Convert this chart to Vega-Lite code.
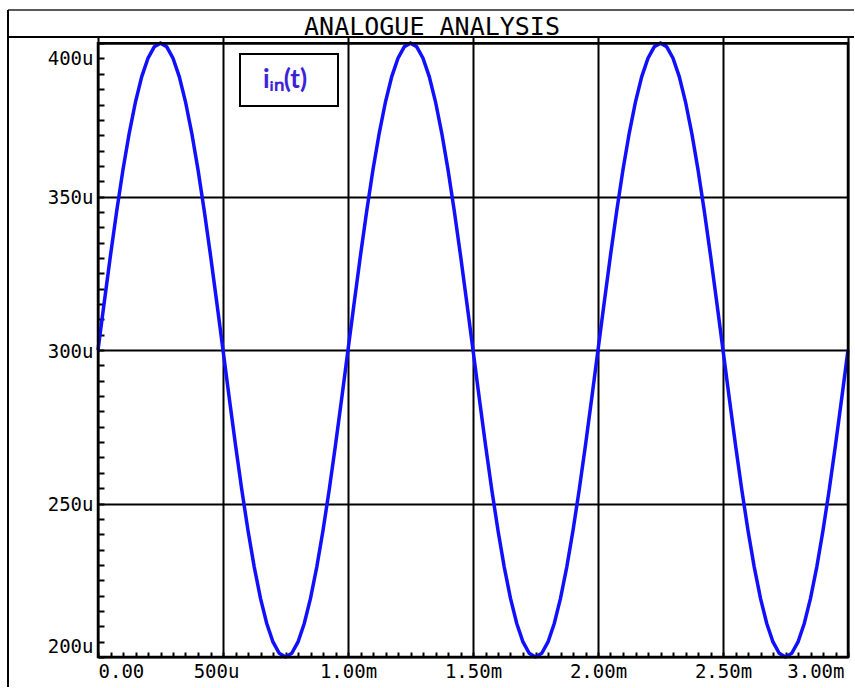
{
  "$schema": "https://vega.github.io/schema/vega-lite/v6.json",
  "usermeta": {"embedOptions": {"actions": false}},
  "padding": {"left": 6, "top": 9, "right": 0, "bottom": 0},
  "background": "white",
  "spacing": 0,
  "bounds": "flush",
  "config": {"view": {"stroke": null}, "font": "DejaVu Sans Mono", "legend": {"strokeWidth": 2}},
  "resolve": {"scale": {"color": "independent"}},
  "vconcat": [
    {
      "width": 846,
      "height": 27,
      "data": {"values": [{"title": "ANALOGUE ANALYSIS"}]},
      "layer": [
        {
          "mark": {"type": "text", "font": "DejaVu Sans Mono", "fontSize": 25, "color": "black", "dy": 3, "dx": 1},
          "encoding": {"text": {"field": "title"}}
        },
        {
          "mark": {"type": "rule", "color": "#222", "strokeWidth": 1.6},
          "encoding": {"y": {"datum": 1, "type": "quantitative", "scale": {"domain": [0, 1]}, "axis": null}}
        },
        {
          "mark": {"type": "rule", "color": "black", "strokeWidth": 2.2},
          "encoding": {"y": {"datum": 0, "type": "quantitative", "scale": {"domain": [0, 1]}, "axis": null}}
        },
        {
          "mark": {"type": "rule", "color": "black", "strokeWidth": 2},
          "encoding": {"x": {"datum": 0, "type": "quantitative", "scale": {"domain": [0, 1]}, "axis": null}}
        }
      ]
    },
    {
      "hconcat": [
        {
          "width": 90,
          "height": 650,
          "data": {"values": [{}]},
          "mark": {"type": "rule", "color": "black", "strokeWidth": 2},
          "encoding": {"x": {"datum": 0, "type": "quantitative", "scale": {"domain": [0, 1]}, "axis": null}}
        },
        {
          "width": 750,
          "height": 620,
          "layer": [
            {
              "data": {"values": [
                {"t":0,"i":300},{"t":0.025,"i":315.6},{"t":0.05,"i":330.9},{"t":0.075,"i":345.4},{"t":0.1,"i":358.8},{"t":0.125,"i":370.7},{"t":0.15,"i":380.9},{"t":0.175,"i":389.1},{"t":0.2,"i":395.1},{"t":0.225,"i":398.8},{"t":0.25,"i":400},{"t":0.275,"i":398.8},{"t":0.3,"i":395.1},{"t":0.325,"i":389.1},{"t":0.35,"i":380.9},{"t":0.375,"i":370.7},{"t":0.4,"i":358.8},{"t":0.425,"i":345.4},{"t":0.45,"i":330.9},{"t":0.475,"i":315.6},{"t":0.5,"i":300},{"t":0.525,"i":284.4},{"t":0.55,"i":269.1},{"t":0.575,"i":254.6},{"t":0.6,"i":241.2},{"t":0.625,"i":229.3},{"t":0.65,"i":219.1},{"t":0.675,"i":210.9},{"t":0.7,"i":204.9},{"t":0.725,"i":201.2},{"t":0.75,"i":200},{"t":0.775,"i":201.2},{"t":0.8,"i":204.9},{"t":0.825,"i":210.9},{"t":0.85,"i":219.1},{"t":0.875,"i":229.3},{"t":0.9,"i":241.2},{"t":0.925,"i":254.6},{"t":0.95,"i":269.1},{"t":0.975,"i":284.4},
                {"t":1,"i":300},{"t":1.025,"i":315.6},{"t":1.05,"i":330.9},{"t":1.075,"i":345.4},{"t":1.1,"i":358.8},{"t":1.125,"i":370.7},{"t":1.15,"i":380.9},{"t":1.175,"i":389.1},{"t":1.2,"i":395.1},{"t":1.225,"i":398.8},{"t":1.25,"i":400},{"t":1.275,"i":398.8},{"t":1.3,"i":395.1},{"t":1.325,"i":389.1},{"t":1.35,"i":380.9},{"t":1.375,"i":370.7},{"t":1.4,"i":358.8},{"t":1.425,"i":345.4},{"t":1.45,"i":330.9},{"t":1.475,"i":315.6},{"t":1.5,"i":300},{"t":1.525,"i":284.4},{"t":1.55,"i":269.1},{"t":1.575,"i":254.6},{"t":1.6,"i":241.2},{"t":1.625,"i":229.3},{"t":1.65,"i":219.1},{"t":1.675,"i":210.9},{"t":1.7,"i":204.9},{"t":1.725,"i":201.2},{"t":1.75,"i":200},{"t":1.775,"i":201.2},{"t":1.8,"i":204.9},{"t":1.825,"i":210.9},{"t":1.85,"i":219.1},{"t":1.875,"i":229.3},{"t":1.9,"i":241.2},{"t":1.925,"i":254.6},{"t":1.95,"i":269.1},{"t":1.975,"i":284.4},
                {"t":2,"i":300},{"t":2.025,"i":315.6},{"t":2.05,"i":330.9},{"t":2.075,"i":345.4},{"t":2.1,"i":358.8},{"t":2.125,"i":370.7},{"t":2.15,"i":380.9},{"t":2.175,"i":389.1},{"t":2.2,"i":395.1},{"t":2.225,"i":398.8},{"t":2.25,"i":400},{"t":2.275,"i":398.8},{"t":2.3,"i":395.1},{"t":2.325,"i":389.1},{"t":2.35,"i":380.9},{"t":2.375,"i":370.7},{"t":2.4,"i":358.8},{"t":2.425,"i":345.4},{"t":2.45,"i":330.9},{"t":2.475,"i":315.6},{"t":2.5,"i":300},{"t":2.525,"i":284.4},{"t":2.55,"i":269.1},{"t":2.575,"i":254.6},{"t":2.6,"i":241.2},{"t":2.625,"i":229.3},{"t":2.65,"i":219.1},{"t":2.675,"i":210.9},{"t":2.7,"i":204.9},{"t":2.725,"i":201.2},{"t":2.75,"i":200},{"t":2.775,"i":201.2},{"t":2.8,"i":204.9},{"t":2.825,"i":210.9},{"t":2.85,"i":219.1},{"t":2.875,"i":229.3},{"t":2.9,"i":241.2},{"t":2.925,"i":254.6},{"t":2.95,"i":269.1},{"t":2.975,"i":284.4},{"t":3,"i":300}
              ]},
              "mark": {"type": "line", "strokeWidth": 3.5, "clip": false},
              "encoding": {
                "x": {
                  "field": "t", "type": "quantitative",
                  "scale": {"domain": [0, 3], "nice": false, "zero": false},
                  "axis": {
                    "orient": "bottom", "title": null,
                    "values": [0, 0.5, 1, 1.5, 2, 2.5, 3],
                    "grid": true, "gridColor": "black", "gridWidth": 2, "gridOpacity": 1,
                    "ticks": false, "domain": false,
                    "labelFont": "DejaVu Sans Mono", "labelFontSize": 19, "labelColor": "black",
                    "labelPadding": 5, "labelFlush": true,
                    "labelOffset": {"expr": "datum.value === 3 ? -4 : (datum.value === 0.5 ? -7 : 0)"},
                    "labelExpr": "datum.value === 0 ? '0.00' : (datum.value === 0.5 ? '500u' : format(datum.value, '.2f') + 'm')"
                  }
                },
                "y": {
                  "field": "i", "type": "quantitative",
                  "scale": {"domain": [200, 402], "nice": false, "zero": false},
                  "axis": {
                    "orient": "left", "title": null,
                    "values": [200, 250, 300, 350, 400],
                    "grid": true, "gridColor": "black", "gridWidth": 2, "gridOpacity": 1,
                    "ticks": false, "domain": false,
                    "labelFont": "DejaVu Sans Mono", "labelFontSize": 19, "labelColor": "black",
                    "labelPadding": 5,
                    "labelOffset": {"expr": "datum.value === 400 ? 15 : (datum.value === 200 ? -11 : 1)"},
                    "labelExpr": "format(datum.value, 'd') + 'u'"
                  }
                },
                "color": {
                  "datum": "iᵢₙ(t)", "type": "nominal",
                  "scale": {"range": ["#1010ff"]},
                  "legend": {
                    "orient": "none", "legendX": 142, "legendY": 17,
                    "title": " ", "titleOrient": "right", "titlePadding": 18, "titleFontSize": 2,
                    "strokeColor": "black", "fillColor": "white",
                    "padding": 13, "symbolSize": 64, "symbolOpacity": 0, "symbolStrokeWidth": 0,
                    "symbolType": "square", "labelOffset": -16,
                    "labelFont": "Lato", "labelFontSize": 26, "labelFontWeight": "bold",
                    "labelColor": "#3b24d6", "labelLimit": 0
                  }
                }
              }
            },
            {
              "data": {"values": [{}]},
              "mark": {"type": "rect", "filled": false, "stroke": "black", "strokeWidth": 2.5},
              "encoding": {
                "x": {
                  "datum": 0, "type": "quantitative",
                  "scale": {"domain": [0, 3], "nice": false, "zero": false},
                  "axis": {
                    "orient": "bottom", "title": null, "labels": false, "grid": false, "domain": false,
                    "ticks": true, "tickSize": -5, "tickWidth": 2, "tickColor": "black",
                    "values": [0,0.05,0.1,0.15,0.2,0.25,0.3,0.35,0.4,0.45,0.5,0.55,0.6,0.65,0.7,0.75,0.8,0.85,0.9,0.95,1,1.05,1.1,1.15,1.2,1.25,1.3,1.35,1.4,1.45,1.5,1.55,1.6,1.65,1.7,1.75,1.8,1.85,1.9,1.95,2,2.05,2.1,2.15,2.2,2.25,2.3,2.35,2.4,2.45,2.5,2.55,2.6,2.65,2.7,2.75,2.8,2.85,2.9,2.95,3]
                  }
                },
                "x2": {"datum": 3},
                "y": {
                  "datum": 200, "type": "quantitative",
                  "scale": {"domain": [200, 402], "nice": false, "zero": false},
                  "axis": {
                    "orient": "left", "title": null, "labels": false, "grid": false, "domain": false,
                    "ticks": true, "tickSize": -6, "tickWidth": 2, "tickColor": "black",
                    "values": [200,205,210,215,220,225,230,235,240,245,250,255,260,265,270,275,280,285,290,295,300,305,310,315,320,325,330,335,340,345,350,355,360,365,370,375,380,385,390,395,400]
                  }
                },
                "y2": {"datum": 400}
              }
            }
          ],
          "resolve": {"axis": {"x": "independent", "y": "independent"}}
        }
      ],
      "spacing": 0,
      "bounds": "flush",
      "resolve": {"scale": {"color": "independent"}}
    }
  ]
}
